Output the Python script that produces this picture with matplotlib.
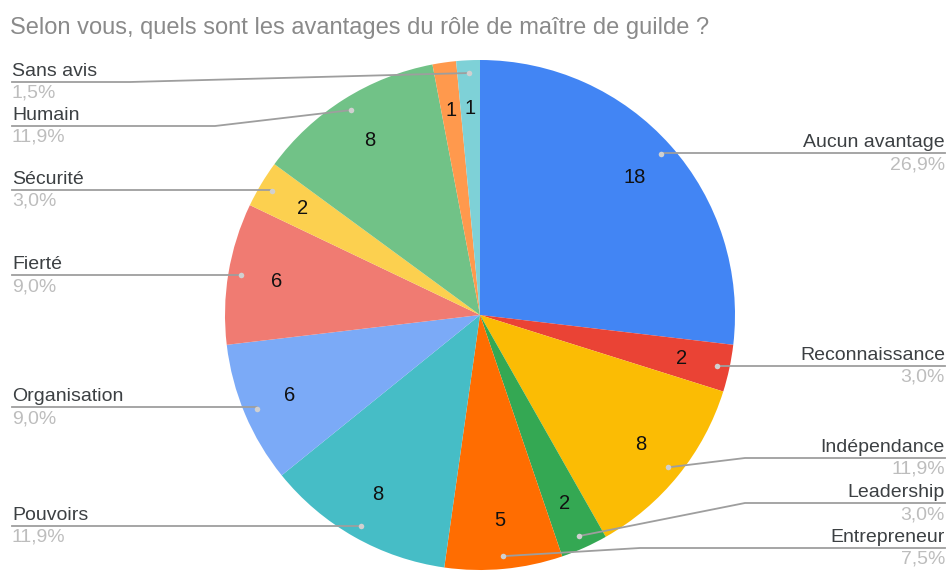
import matplotlib.pyplot as plt
import numpy as np

plt.rcParams['font.family'] = ['Liberation Sans', 'DejaVu Sans']

# data
labels = ['Aucun avantage', 'Reconnaissance', 'Indépendance', 'Leadership',
          'Entrepreneur', 'Pouvoirs', 'Organisation', 'Fierté', 'Sécurité',
          'Humain', 'Autre', 'Sans avis']
values = [18, 2, 8, 2, 5, 8, 6, 6, 2, 8, 1, 1]
colors = ['#4285F4', '#EA4335', '#FBBC04', '#34A853', '#FF6D01', '#46BDC6',
          '#7BAAF7', '#F07B72', '#FCD04F', '#71C287', '#FF994D', '#7ED1D7']

# label layout: (side, line y in px, bend x in px); None = label hidden
label_layout = [('right', 153, None), ('right', 366, None), ('right', 458, 745),
                ('right', 503, 745), ('right', 548, 640), ('left', 526, None),
                ('left', 407, None), ('left', 275, None), ('left', 190, None),
                ('left', 126, 215), None, ('left', 82, 130)]

W, H = 949, 571
CX, CY, R = 480, 315, 255

fig = plt.figure(figsize=(W / 100, H / 100), dpi=100)
ax = fig.add_axes([(CX - R) / W, (H - CY - R) / H, 2 * R / W, 2 * R / H])
wedges, _ = ax.pie(values, colors=colors, startangle=90, counterclock=False,
                   radius=1, wedgeprops=dict(linewidth=0))
ax.set_xlim(-1, 1)
ax.set_ylim(-1, 1)
ax.set_aspect('equal')
ax.axis('off')

total = sum(values)
for w, v in zip(wedges, values):
    mid = np.deg2rad((w.theta1 + w.theta2) / 2)
    ax.text(0.81 * np.cos(mid), 0.81 * np.sin(mid), str(v), ha='center',
            va='center', fontsize=14.5, color='#111111')

# overlay in pixel coordinates for the leader lines and labels
ov = fig.add_axes([0, 0, 1, 1], facecolor='none')
ov.set_xlim(0, W)
ov.set_ylim(H, 0)
ov.axis('off')

line_c = '#9E9E9E'
for w, v, name, lay in zip(wedges, values, labels, label_layout):
    if lay is None:
        continue
    side, ly, bend = lay
    mid = np.deg2rad((w.theta1 + w.theta2) / 2)
    dx = CX + 0.95 * R * np.cos(mid)
    dy = CY - 0.95 * R * np.sin(mid)
    pct = f'{100 * v / total:.1f}%'.replace('.', ',')
    xe = 12 if side == 'left' else 945
    ha = 'left' if side == 'left' else 'right'
    b = bend if bend is not None else dx
    ov.plot([xe, b, dx], [ly, ly, dy], color=line_c, lw=1.3)
    ov.text(xe, ly - 2, name, ha=ha, va='bottom', fontsize=14,
            color='#3c4043')
    ov.text(xe, ly + 3, pct, ha=ha, va='top', fontsize=14,
            color='#bdbdbd')
    ov.plot(dx, dy, 'o', ms=4, color='#d0d0d0', mec='none')

fig.text(10 / W, 1 - 28 / H, 'Selon vous, quels sont les avantages du rôle de maître de guilde ?',
         ha='left', va='center', fontsize=17, color='#8a8a8a')

fig.savefig('out.png', dpi=100)
